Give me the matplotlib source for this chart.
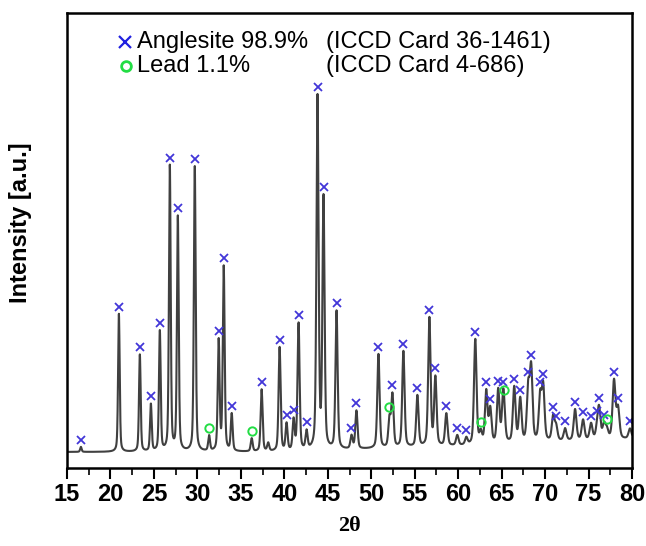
import matplotlib
matplotlib.use("Agg")
import matplotlib.pyplot as plt
import numpy as np
from matplotlib.ticker import MultipleLocator

# Anglesite (PbSO4) reflections: 2theta and peak height above background (a.u.)
anglesite_pos = [16.6, 20.97, 23.38, 24.65, 25.68, 26.83, 27.75, 29.70, 32.45, 33.03,
                 33.95, 37.39, 39.46, 40.26, 41.07, 41.64, 42.56, 43.82, 44.51, 46.01,
                 47.73, 48.30, 50.83, 52.44, 53.70, 55.31, 56.69, 57.38, 58.64, 59.90,
                 60.94, 61.97, 63.23, 63.69, 64.61, 65.18, 66.45, 67.14, 68.06, 68.40,
                 69.43, 69.78, 70.93, 71.27, 72.30, 73.45, 74.37, 75.29, 75.98, 76.21,
                 76.78, 77.93, 78.39, 79.77]
anglesite_int = [5, 138, 97, 47, 120, 285, 234, 285, 110, 184,
                 37, 62, 104, 27, 30, 127, 18, 352, 250, 138,
                 13, 38, 94, 52, 96, 51, 128, 68, 32, 10,
                 7, 105, 52, 34, 53, 42, 55, 43, 52, 72,
                 44, 54, 24, 14, 12, 31, 20, 16, 9, 30,
                 14, 58, 30, 10]

# Lead reflections
lead_pos = [31.35, 36.25, 52.1, 62.6, 65.3, 77.1]
lead_int = [15, 13, 28, 11, 14, 9]

# unindexed small bump
extra_pos = [38.15]
extra_int = [8]

# background level
bg_pos = [15, 40, 50, 60, 70, 80]
bg_int = [16, 16, 19, 22, 26, 29]

tt = np.linspace(15, 80, 8000)


def profile(x, pos, amp):
    y = np.zeros_like(x)
    for p, a in zip(pos, amp):
        w = 0.2 + 0.003 * (p - 15)
        g = np.exp(-4 * np.log(2) * ((x - p) / w) ** 2)
        lor = 1 / (1 + 4 * ((x - p) / w) ** 2)
        y += a * (0.6 * g + 0.4 * lor)
    return y


curve = (np.interp(tt, bg_pos, bg_int)
         + profile(tt, anglesite_pos, anglesite_int)
         + profile(tt, lead_pos, lead_int)
         + profile(tt, extra_pos, extra_int))

fig = plt.figure(figsize=(6.46, 5.46), dpi=100)
ax = fig.add_axes([67 / 646, 1 - 468 / 546, 565 / 646, 455 / 546])

ax.plot(tt, curve, color='#404040', lw=1.5)

blue = '#4236d8'
green = '#22dd44'
ax.plot(anglesite_pos, np.interp(anglesite_pos, tt, curve) + 7, 'x', color=blue,
        ms=5.5, mew=1.3, ls='none')
ax.plot(lead_pos, np.interp(lead_pos, tt, curve) + 7, 'o', mfc='none', mec=green,
        ms=6, mew=1.4, ls='none')

ax.set_xlim(15, 80)
ax.set_ylim(0, 455)
ax.xaxis.set_major_locator(MultipleLocator(5))
ax.xaxis.set_minor_locator(MultipleLocator(2.5))
ax.tick_params(axis='x', which='major', direction='out', length=8, width=1.5,
               labelsize=17, pad=3)
ax.tick_params(axis='x', which='minor', direction='out', length=5, width=1.2)
ax.tick_params(axis='y', left=False, labelleft=False)
for lbl in ax.get_xticklabels():
    lbl.set_fontfamily('Liberation Sans')
    lbl.set_fontweight('bold')
for s in ax.spines.values():
    s.set_linewidth(1.8)

ax.set_xlabel('2θ', family='Liberation Serif', fontweight='bold', fontsize=16, labelpad=7)
ax.set_ylabel('Intensity [a.u.]', family='Liberation Sans', fontweight='bold', fontsize=17)
ax.yaxis.set_label_coords(-0.062, 0.54)

# legend-like annotation
ax.plot([0.103], [0.937], 'x', color='#2020e0', ms=8, mew=1.6, transform=ax.transAxes)
ax.plot([0.104], [0.884], 'o', mfc='none', mec=green, ms=7, mew=2, transform=ax.transAxes)
ax.text(0.124, 0.937, 'Anglesite 98.9%', transform=ax.transAxes, va='center',
        family='Liberation Sans', fontsize=17)
ax.text(0.458, 0.937, '(ICCD Card 36-1461)', transform=ax.transAxes, va='center',
        family='Liberation Sans', fontsize=17)
ax.text(0.124, 0.884, 'Lead 1.1%', transform=ax.transAxes, va='center',
        family='Liberation Sans', fontsize=17)
ax.text(0.458, 0.884, '(ICCD Card 4-686)', transform=ax.transAxes, va='center',
        family='Liberation Sans', fontsize=17)

fig.savefig('out.png', dpi=100)
